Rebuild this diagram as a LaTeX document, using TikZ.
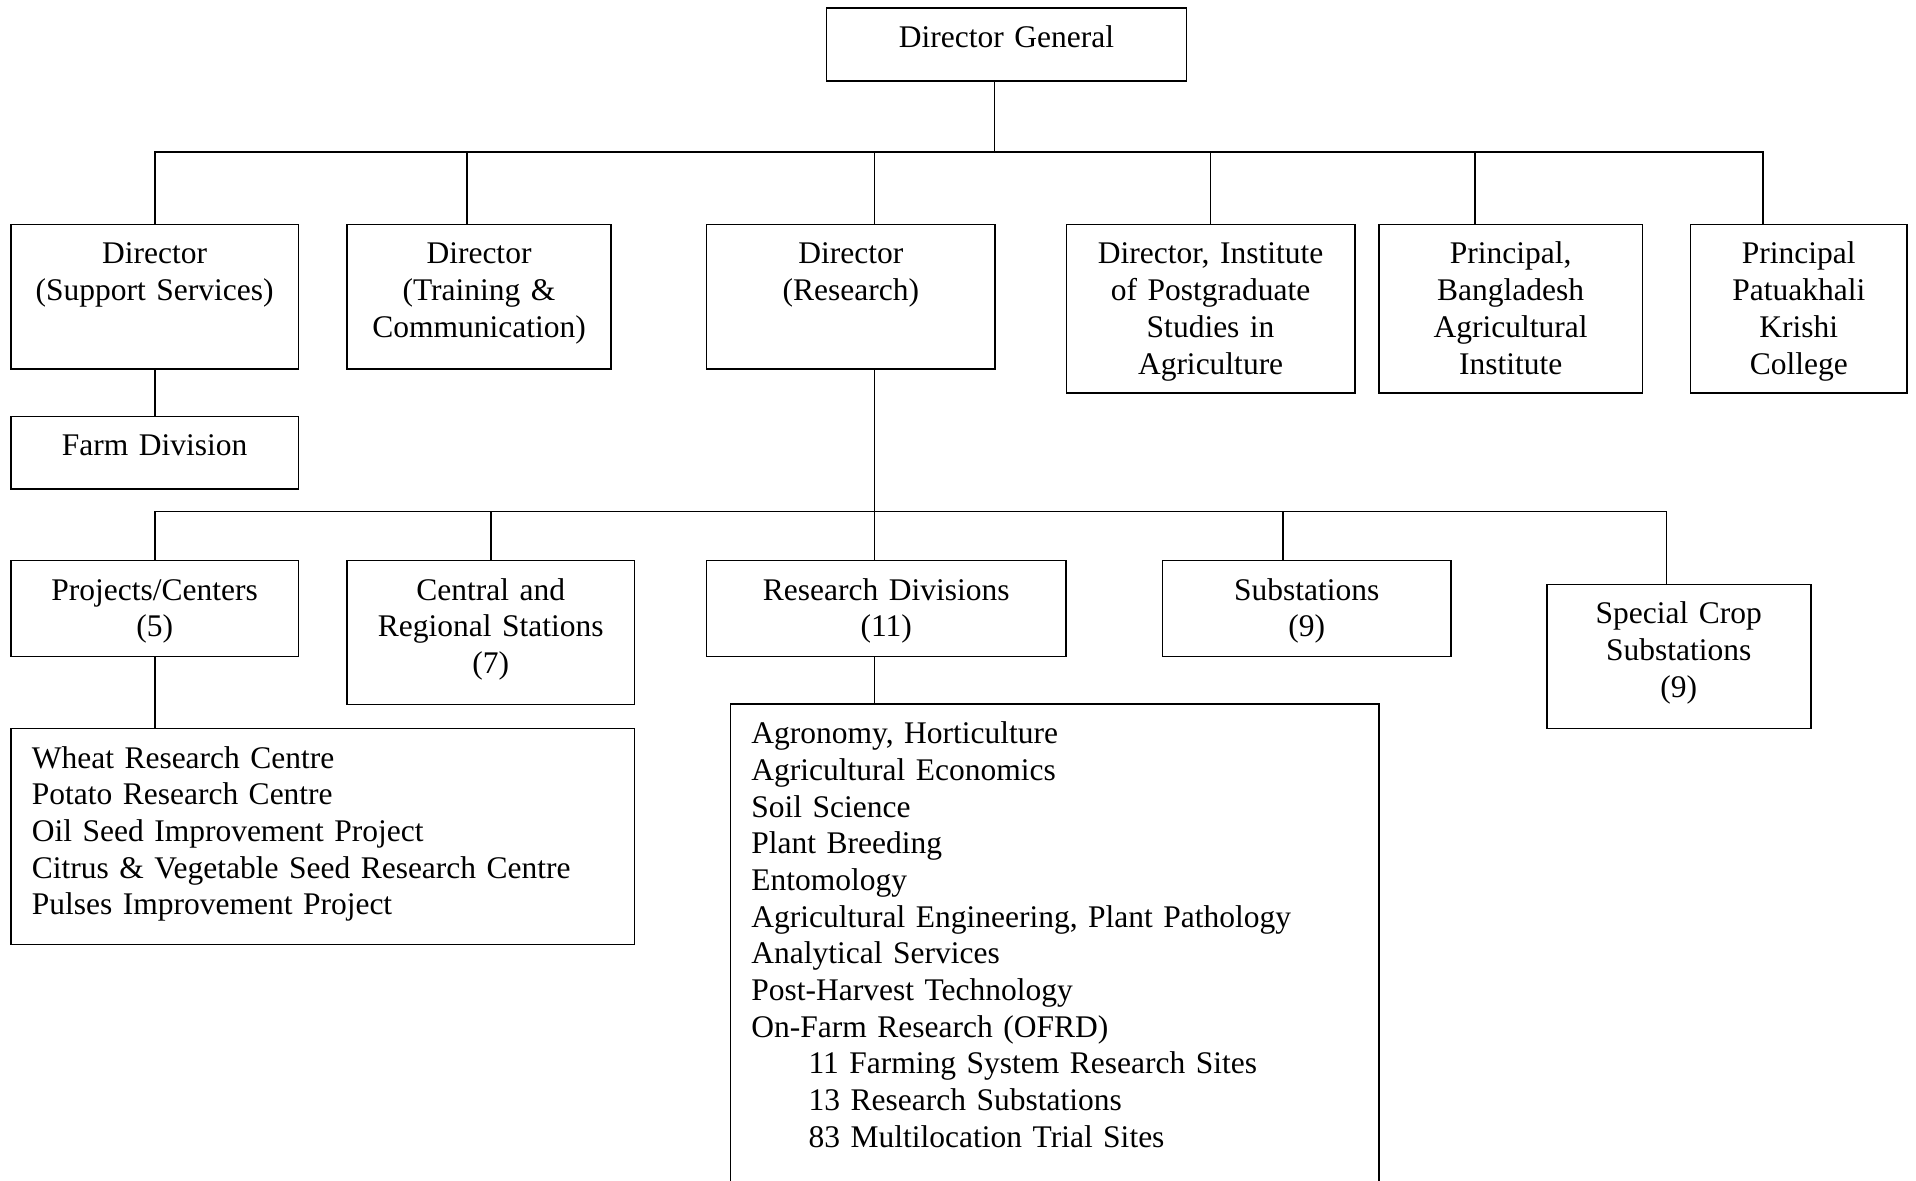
\documentclass[tikz,border=0pt]{standalone}
\usepackage{fontspec}
\setmainfont{Liberation Serif}[WordSpace=0.92]

\begin{document}
\begin{tikzpicture}[x=0.5pt, y=-0.5pt, line width=0.8pt,
    font=\fontsize{15.75}{18.35}\selectfont,
    orgbox/.style 2 args={draw, anchor=north, inner sep=0pt, align=center,
      text width=#1, text height=19.75pt, text depth=#2},
    listbox/.style 2 args={orgbox={#1}{#2}, align=left, inner xsep=10.5pt}]

  \useasboundingbox (0,0) rectangle (1916,1181);
  \fill[white] (0,0) rectangle (1916,1181);
  \clip (0,0) rectangle (1916,1181);

  % top level
  \node[orgbox={180pt}{16.6pt}] (dg) at (1006.5,7.3) {Director General};

  \node[orgbox={143.85pt}{52.4pt}] (ss) at (154.7,223.7) {Director\\(Support Services)};
  \node[orgbox={132pt}{52.4pt}] (tc) at (479,223.7) {Director\\(Training \&\\Communication)};
  \node[orgbox={144.2pt}{52.4pt}] (dr) at (850.8,223.7) {Director\\(Research)};
  \node[orgbox={144.2pt}{64.4pt}] (ip) at (1210.6,223.7) {Director, Institute\\of Postgraduate\\Studies in\\Agriculture};
  \node[orgbox={131.85pt}{64.4pt}] (ba) at (1510.7,223.7) {Principal,\\Bangladesh\\Agricultural\\Institute};
  \node[orgbox={108.15pt}{64.4pt}] (pk) at (1798.8,223.7) {Principal\\Patuakhali\\Krishi\\College};

  \node[orgbox={143.85pt}{16.55pt}] (fd) at (154.7,415.7) {Farm Division};

  % research level
  \node[orgbox={143.85pt}{28.25pt}] (pc) at (154.7,559.7) {Projects/Centers\\(5)};
  \node[orgbox={143.8pt}{52.25pt}] (cr) at (490.8,559.7) {Central and\\Regional Stations\\(7)};
  \node[orgbox={179.7pt}{28.25pt}] (rd) at (886.3,559.7) {Research Divisions\\(11)};
  \node[orgbox={144.3pt}{28.25pt}] (sb) at (1306.7,559.7) {Substations\\(9)};
  \node[orgbox={132pt}{52.25pt}] (sc) at (1678.7,583.7) {Special Crop\\Substations\\(9)};

  \node[listbox={290.9pt}{88.25pt}] (pl) at (322.7,727.7)
    {Wheat Research Centre\\Potato Research Centre\\Oil Seed Improvement Project\\
     Citrus \& Vegetable Seed Research Centre\\Pulses Improvement Project};
  \node[listbox={303.3pt}{240.25pt}] (rl) at (1054.7,703.3)
    {Agronomy, Horticulture\\Agricultural Economics\\Soil Science\\Plant Breeding\\
     Entomology\\Agricultural Engineering, Plant Pathology\\Analytical Services\\
     Post-Harvest Technology\\On-Farm Research (OFRD)\\
     \hspace*{28.6pt}11 Farming System Research Sites\\
     \hspace*{28.6pt}13 Research Substations\\
     \hspace*{28.6pt}83 Multilocation Trial Sites};

  % connector ends
  \coordinate (bus1) at (0,152);
  \coordinate (bus2) at (0,511.7);
  \coordinate (dgfoot) at ([xshift=-6pt]dg.south);
  \coordinate (tctop) at ([xshift=-6pt]tc.north);
  \coordinate (drtop) at ([xshift=11.8pt]dr.north);
  \coordinate (drfoot) at ([xshift=11.8pt]dr.south);
  \coordinate (batop) at ([xshift=-17.85pt]ba.north);
  \coordinate (pktop) at ([xshift=-18pt]pk.north);
  \coordinate (rdtop) at ([xshift=-5.95pt]rd.north);
  \coordinate (rdfoot) at ([xshift=-5.95pt]rd.south);
  \coordinate (sbtop) at ([xshift=-12pt]sb.north);
  \coordinate (sctop) at ([xshift=-6.1pt]sc.north);

  \draw (dgfoot) -- (dgfoot |- bus1);
  \draw (ss.north) -- (ss.north |- bus1) -- (pktop |- bus1) -- (pktop);
  \foreach \n in {tctop, drtop, ip.north, batop}
    \draw (\n) -- (\n |- bus1);
  \draw (ss.south) -- (fd.north);

  \draw (drfoot) -- (drfoot |- bus2);
  \draw (pc.north) -- (pc.north |- bus2) -- (sctop |- bus2) -- (sctop);
  \foreach \n in {cr.north, rdtop, sbtop}
    \draw (\n) -- (\n |- bus2);
  \draw (pc.south) -- (pc.south |- pl.north);
  \draw (rdfoot) -- (rdfoot |- rl.north);
\end{tikzpicture}
\end{document}
